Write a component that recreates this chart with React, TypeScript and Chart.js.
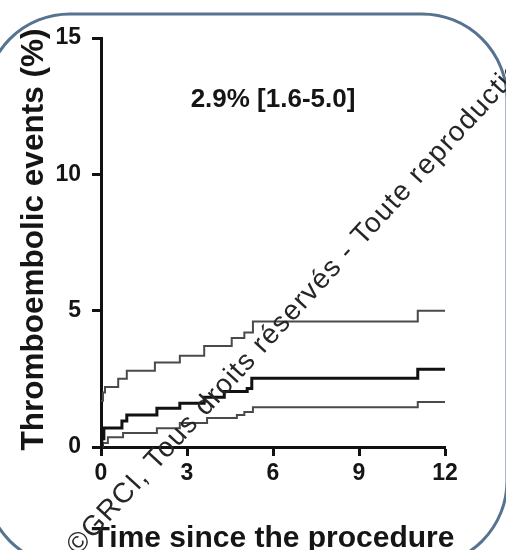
import React, { useEffect, useRef } from "react";
import { Chart, registerables } from "chart.js";

Chart.register(...registerables);

// ---- data ----
const xTickValues = [0, 3, 6, 9, 12];
const yTickValues = [0, 5, 10, 15];

const upperTimes = [0, 0.07, 0.14, 0.6, 0.9, 1.88, 2.75, 3.6, 4.56, 5.0, 5.3, 11.05, 12];
const upperValues = [1.7, 2.0, 2.2, 2.5, 2.8, 3.1, 3.35, 3.7, 4.0, 4.2, 4.6, 5.0, 5.0];

const middleTimes = [0, 0.03, 0.1, 0.73, 0.9, 1.95, 2.75, 3.6, 4.3, 5.1, 5.26, 11.05, 12];
const middleValues = [0, 0.3, 0.7, 0.95, 1.17, 1.42, 1.6, 1.82, 2.04, 2.15, 2.52, 2.85, 2.85];

const lowerTimes = [0, 0.07, 0.24, 0.77, 1.95, 2.75, 3.7, 4.74, 5.0, 5.3, 11.05, 12];
const lowerValues = [0, 0.15, 0.36, 0.51, 0.69, 0.88, 1.06, 1.17, 1.28, 1.46, 1.65, 1.65];

const annotationText = "2.9% [1.6-5.0]";
const annotationX = 6;
const annotationY = 12.75;

const xTitle = "Time since the procedure";
const yTitle = "Thromboembolic events (%)";
const watermarkText = "©GRCI, Tous droits réservés - Toute reproduction interdite";

const FONT = "'Liberation Sans', Arial, Helvetica, sans-serif";

// each pair (t, v): value v holds from the previous time up to t
const toPoints = (t: number[], v: number[]) => t.map((x, i) => ({ x, y: v[i] }));

const framePlugin = {
  id: "frame",
  beforeDraw(chart: any) {
    const ctx = chart.ctx;
    ctx.save();
    ctx.fillStyle = "#ffffff";
    ctx.fillRect(0, 0, chart.width, chart.height);
    ctx.strokeStyle = "#56738f";
    ctx.lineWidth = 3;
    ctx.beginPath();
    (ctx as any).roundRect(-15, 14, 522, 552, 85);
    ctx.stroke();
    ctx.restore();
  },
};

const textPlugin = {
  id: "texts",
  afterDatasetsDraw(chart: any) {
    const ctx = chart.ctx;
    const area = chart.chartArea;
    ctx.save();
    ctx.fillStyle = "#151515";
    // annotation
    ctx.font = `bold 26px ${FONT}`;
    ctx.textAlign = "center";
    ctx.textBaseline = "middle";
    ctx.fillText(
      annotationText,
      chart.scales.x.getPixelForValue(annotationX),
      chart.scales.y.getPixelForValue(annotationY)
    );
    // x title
    ctx.font = `bold 30px ${FONT}`;
    ctx.textAlign = "center";
    ctx.textBaseline = "alphabetic";
    ctx.fillText(xTitle, (area.left + area.right) / 2, 547);
    // y title
    ctx.font = `bold 31.5px ${FONT}`;
    ctx.save();
    ctx.translate(43, (area.top + area.bottom) / 2 - 3);
    ctx.rotate(-Math.PI / 2);
    ctx.fillText(yTitle, 0, 0);
    ctx.restore();
    ctx.restore();
  },
};

const watermarkPlugin = {
  id: "wm",
  afterDraw(chart: any) {
    const ctx = chart.ctx;
    ctx.save();
    ctx.translate(78, 556);
    ctx.rotate((-47.4 * Math.PI) / 180);
    ctx.font = `28px ${FONT}`;
    (ctx as any).letterSpacing = "1.3px";
    ctx.fillStyle = "#262626";
    ctx.textAlign = "left";
    ctx.textBaseline = "alphabetic";
    ctx.fillText(watermarkText, 0, 0);
    ctx.restore();
  },
};

export default function App() {
  const ref = useRef<HTMLCanvasElement | null>(null);

  useEffect(() => {
    if (!ref.current) return;
    const chart = new Chart(ref.current, {
      type: "line",
      data: {
        datasets: [
          {
            label: "upper",
            data: toPoints(upperTimes, upperValues),
            borderColor: "#4a4a4a",
            borderWidth: 2,
            pointRadius: 0,
            stepped: "before",
            fill: false,
          },
          {
            label: "estimate",
            data: toPoints(middleTimes, middleValues),
            borderColor: "#111111",
            borderWidth: 3,
            pointRadius: 0,
            stepped: "before",
            fill: false,
          },
          {
            label: "lower",
            data: toPoints(lowerTimes, lowerValues),
            borderColor: "#4a4a4a",
            borderWidth: 2,
            pointRadius: 0,
            stepped: "before",
            fill: false,
          },
        ],
      },
      options: {
        animation: false,
        responsive: false,
        devicePixelRatio: 1,
        clip: 4 as any,
        layout: { padding: { top: 38, right: 61, bottom: 0, left: 0 } },
        plugins: {
          legend: { display: false },
          tooltip: { enabled: false },
        },
        scales: {
          x: {
            type: "linear",
            min: 0,
            max: 12,
            afterFit: (s: any) => {
              s.height = 103;
            },
            afterBuildTicks: (s: any) => {
              s.ticks = xTickValues.map((v) => ({ value: v }));
            },
            ticks: {
              color: "#151515",
              font: { family: FONT, size: 23, weight: "bold" },
              padding: 4,
              maxRotation: 0,
            },
            grid: {
              drawOnChartArea: false,
              drawTicks: true,
              tickLength: 9,
              tickWidth: 3,
              tickColor: "#111",
            },
            border: { display: true, width: 3, color: "#111" },
            title: { display: false },
          },
          y: {
            type: "linear",
            min: 0,
            max: 15,
            afterFit: (s: any) => {
              s.width = 101;
            },
            afterBuildTicks: (s: any) => {
              s.ticks = yTickValues.map((v) => ({ value: v }));
            },
            ticks: {
              color: "#151515",
              font: { family: FONT, size: 23, weight: "bold" },
              padding: 11,
            },
            grid: {
              drawOnChartArea: false,
              drawTicks: true,
              tickLength: 9,
              tickWidth: 3,
              tickColor: "#111",
            },
            border: { display: true, width: 3, color: "#111" },
            title: { display: false },
          },
        },
      },
      plugins: [framePlugin, textPlugin, watermarkPlugin],
    });
    return () => chart.destroy();
  }, []);

  return (
    <div style={{ position: "absolute", left: 0, top: 0, width: 506, height: 550, background: "#fff" }}>
      <canvas ref={ref} width={506} height={550} style={{ display: "block", width: 506, height: 550 }} />
    </div>
  );
}
